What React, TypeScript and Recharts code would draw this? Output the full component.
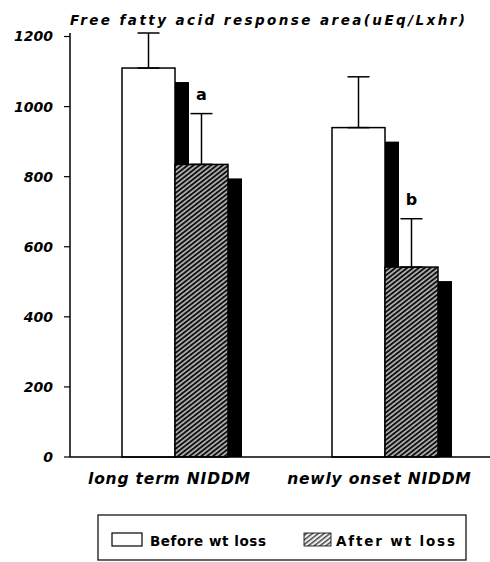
import React from 'react';
import { BarChart, Bar, XAxis, YAxis, ErrorBar, LabelList } from 'recharts';

const groups = ['long term NIDDM', 'newly onset NIDDM'];
const beforeLoss = [1110, 940];
const beforeErr = [100, 145];
const afterLoss = [835, 542];
const afterErr = [145, 138];
const sigLetters = ['a', 'b'];
const yTicks = [0, 200, 400, 600, 800, 1000, 1200];
const seriesNames = ['Before wt loss', 'After wt loss'];
const title = 'Free fatty acid response area(uEq/Lxhr)';

const data = groups.map((g, i) => ({
  group: g,
  before: beforeLoss[i],
  beforeErr: [0, beforeErr[i]],
  after: afterLoss[i],
  afterErr: [0, afterErr[i]],
  sig: sigLetters[i],
}));

const FONT = '"DejaVu Sans", "Liberation Sans", sans-serif';
const SHADOW = 14;

// bar with a solid black drop shadow down/right
const shadowBar = (fill: string) => (props: any) => {
  const { x, y, width, height } = props;
  return (
    <g>
      <rect x={x + SHADOW} y={y + SHADOW} width={width} height={Math.max(height - SHADOW, 0)} fill="#000" />
      <rect x={x} y={y} width={width} height={height} fill={fill} stroke="#000" strokeWidth={1.5} />
    </g>
  );
};

const CategoryTick = (props: any) => {
  const { x, y, payload } = props;
  const label = String(payload.value);
  return (
    <text
      x={x - 6}
      y={y + 19}
      textAnchor="middle"
      fontFamily={FONT}
      fontSize={15.5}
      fontWeight="bold"
      fontStyle="italic"
      fill="#000"
      textLength={label.length * 10.8}
      lengthAdjust="spacing"
    >
      {label}
    </text>
  );
};

const SigLabel = (props: any) => {
  const { x, y, width, height, value } = props;
  const i = sigLetters.indexOf(value);
  if (i < 0) return null;
  const errTop = y - (afterErr[i] * height) / afterLoss[i];
  return (
    <text x={x + width / 2} y={errTop - 14} textAnchor="middle" fontFamily={FONT} fontSize={16} fontWeight="bold" fill="#000">
      {value}
    </text>
  );
};

export default function App() {
  return (
    <div style={{ position: 'absolute', left: 0, top: 0, width: 490, height: 562, background: '#fff' }}>
      <BarChart
        width={490}
        height={562}
        data={data}
        margin={{ top: 33, right: 0, bottom: 75, left: 0 }}
        barGap={0}
        barSize={53}
      >
        <defs>
          <pattern id="hatch" patternUnits="userSpaceOnUse" width="3.6" height="3.6" patternTransform="rotate(52)">
            <rect width="3.6" height="3.6" fill="#bdbdbd" />
            <rect width="2" height="3.6" fill="#111" />
          </pattern>
        </defs>
        <XAxis
          dataKey="group"
          height={30}
          interval={0}
          axisLine={{ stroke: '#000', strokeWidth: 1.5 }}
          tickLine={false}
          tick={<CategoryTick />}
        />
        <YAxis
          width={70}
          domain={[0, 1200]}
          ticks={yTicks}
          interval={0}
          axisLine={{ stroke: '#000', strokeWidth: 1.5 }}
          tickLine={{ stroke: '#000', strokeWidth: 1.2 }}
          tickSize={6}
          tickMargin={11}
          tick={{ fill: '#000', fontSize: 14, fontFamily: FONT, fontWeight: 'bold', fontStyle: 'italic' }}
        />
        <Bar dataKey="before" name={seriesNames[0]} shape={shadowBar('#fff')} isAnimationActive={false}>
          <ErrorBar dataKey="beforeErr" direction="y" width={11} stroke="#000" strokeWidth={1.5} />
        </Bar>
        <Bar dataKey="after" name={seriesNames[1]} shape={shadowBar('url(#hatch)')} isAnimationActive={false}>
          <ErrorBar dataKey="afterErr" direction="y" width={11} stroke="#000" strokeWidth={1.5} />
          <LabelList dataKey="sig" content={SigLabel} />
        </Bar>
      </BarChart>

      {/* title and legend box */}
      <svg width={490} height={562} style={{ position: 'absolute', left: 0, top: 0, pointerEvents: 'none' }}>
        <defs>
          <pattern id="hatch2" patternUnits="userSpaceOnUse" width="3.6" height="3.6" patternTransform="rotate(52)">
            <rect width="3.6" height="3.6" fill="#eee" />
            <rect width="1.4" height="3.6" fill="#444" />
          </pattern>
        </defs>
        <text
          x={70}
          y={25}
          fontFamily={FONT}
          fontSize={13.5}
          fontWeight="bold"
          fontStyle="italic"
          fill="#000"
          textLength={395}
          lengthAdjust="spacing"
        >
          {title}
        </text>
        <rect x={98} y={515} width={368} height={45} fill="none" stroke="#000" strokeWidth={1.2} />
        <rect x={112} y={533} width={30} height={13} fill="#fff" stroke="#000" strokeWidth={1.2} />
        <text x={150} y={546} fontFamily={FONT} fontSize={13.5} fontWeight="bold" fill="#000" textLength={116} lengthAdjust="spacing">
          {seriesNames[0]}
        </text>
        <rect x={304} y={533} width={27} height={13} fill="url(#hatch2)" stroke="#000" strokeWidth={0.8} />
        <text x={336} y={546} fontFamily={FONT} fontSize={13.5} fontWeight="bold" fill="#000" textLength={119} lengthAdjust="spacing">
          {seriesNames[1]}
        </text>
      </svg>
    </div>
  );
}
